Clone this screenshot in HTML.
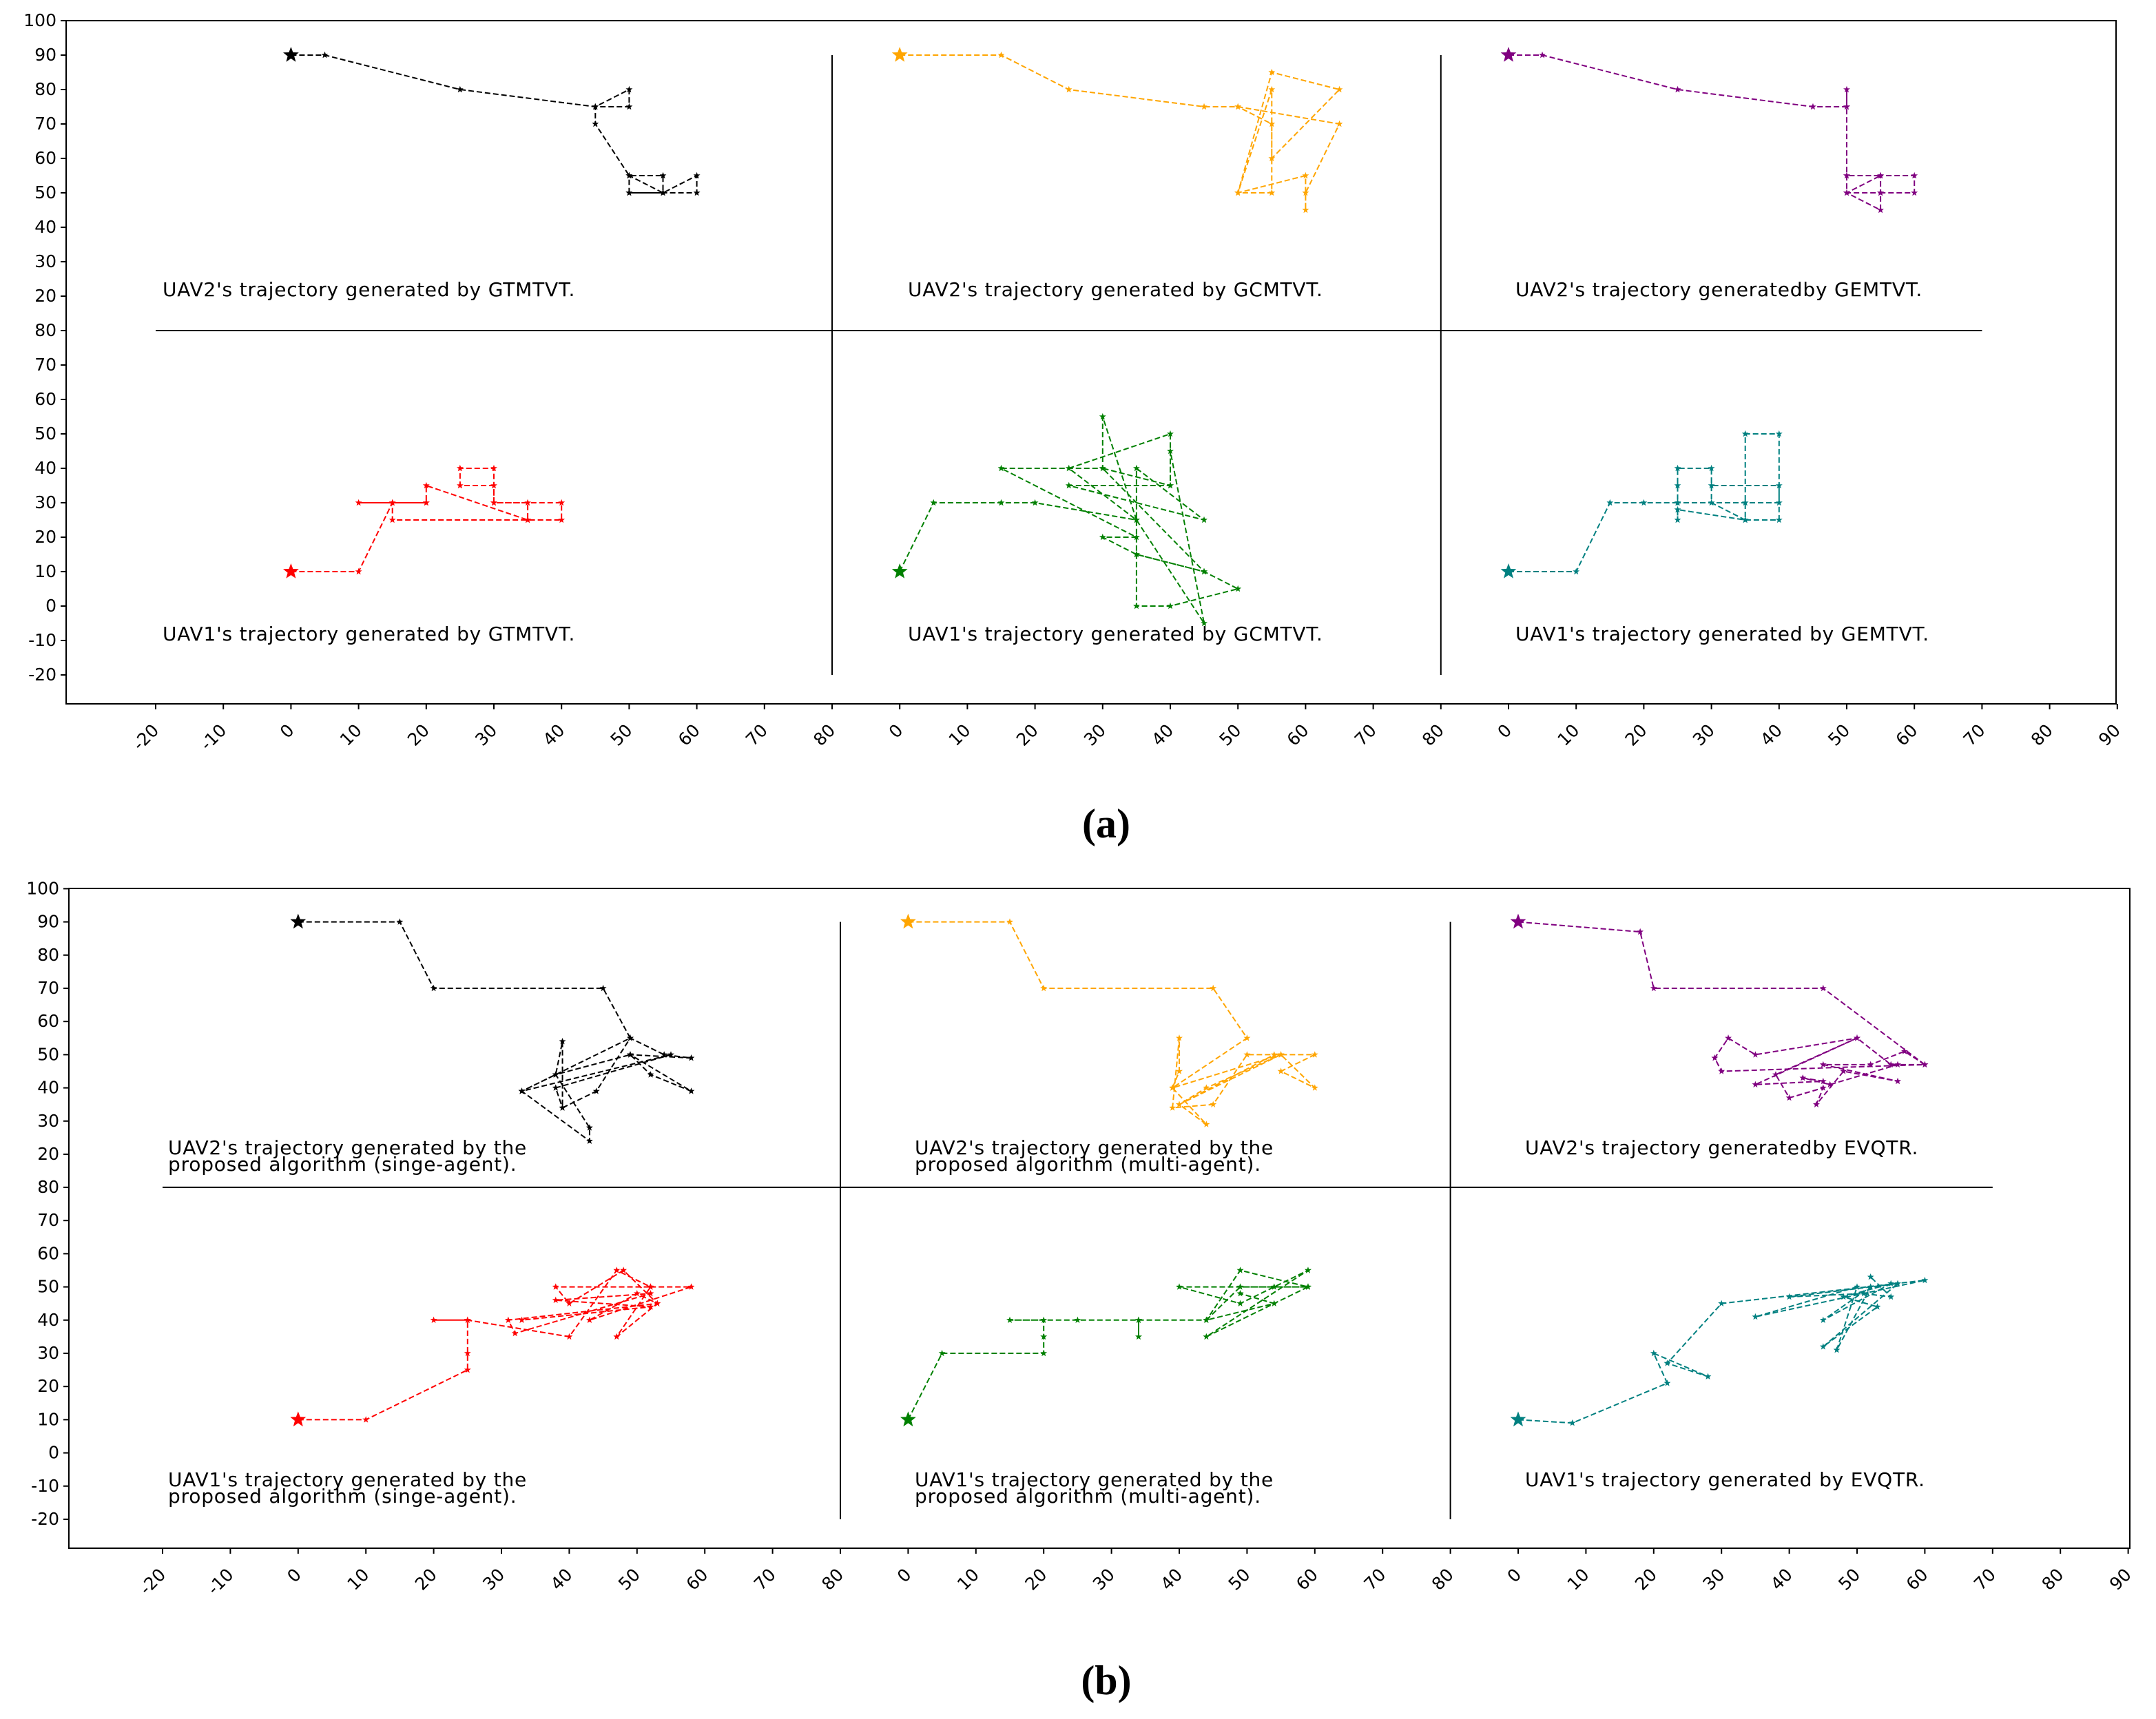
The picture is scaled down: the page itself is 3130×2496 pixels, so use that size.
<!DOCTYPE html>
<html><head><meta charset="utf-8"><style>html,body{margin:0;padding:0;background:#fff}svg{display:block}text{font-family:"DejaVu Sans","Liberation Sans",sans-serif}</style></head>
<body>
<svg id="fig" width="3130" height="2496" viewBox="0 0 1565 1248" xmlns="http://www.w3.org/2000/svg"></svg>
<script>
const ns="http://www.w3.org/2000/svg";
const svg=document.getElementById('fig');
// ---- data ----
const yTicksUpper=[100,90,80,70,60,50,40,30,20];
const yTicksLower=[80,70,60,50,40,30,20,10,0,-10,-20];
const xTickLabels=[-20,-10,0,10,20,30,40,50,60,70,80,0,10,20,30,40,50,60,70,80,0,10,20,30,40,50,60,70,80,90];
const aUav2Gtmtvt=[[0,90],[5,90],[25,80],[45,75],[50,80],[50,75],[45,75],[45,70],[50,55],[55,55],[55,50],[50,50],[50,55],[55,50],[60,55],[60,50],[50,50]];
const aUav2Gcmtvt=[[0,90],[15,90],[25,80],[45,75],[50,75],[65,70],[60,50],[60,45],[60,55],[50,50],[55,80],[55,50],[50,50],[55,85],[65,80],[55,60],[55,70],[50,75]];
const aUav2Gemtvt=[[0,90],[5,90],[25,80],[45,75],[50,75],[50,80],[50,75],[50,55],[50,50],[55,50],[55,55],[60,55],[60,50],[55,50],[55,45],[50,50],[55,55],[50,55]];
const aUav1Gtmtvt=[[0,10],[10,10],[15,30],[10,30],[20,30],[20,35],[35,25],[40,25],[40,30],[30,30],[30,40],[25,40],[25,35],[30,35],[30,30],[35,30],[35,25],[15,25],[15,30],[20,30]];
const aUav1Gcmtvt=[[0,10],[5,30],[15,30],[20,30],[35,25],[30,55],[30,40],[15,40],[35,20],[30,20],[35,15],[45,10],[50,5],[40,0],[35,0],[35,40],[45,25],[25,35],[40,35],[40,50],[25,40],[35,25],[45,-5],[40,45],[40,35],[30,40],[45,10],[35,15]];
const aUav1Gemtvt=[[0,10],[10,10],[15,30],[20,30],[25,30],[25,35],[25,40],[30,40],[30,30],[35,25],[35,50],[40,50],[40,25],[35,25],[25,28],[25,25],[25,30],[35,30],[40,30],[40,35],[30,35]];
const bUav2Single=[[0,90],[15,90],[20,70],[45,70],[49,55],[33,39],[38,44],[39,54],[39,34],[44,39],[49,55],[54,50],[58,49],[49,50],[58,39],[52,44],[49,50],[38,44],[43,28],[43,24],[33,39],[55,50],[38,40],[39,34]];
const bUav2Multi=[[0,90],[15,90],[20,70],[45,70],[50,55],[39,40],[40,45],[40,55],[39,34],[45,35],[50,50],[55,50],[60,50],[55,45],[60,40],[55,50],[40,35],[44,29],[39,40],[55,50],[44,40],[40,35],[54,50]];
const bUav2Evqtr=[[0,90],[18,87],[20,70],[45,70],[60,47],[55,47],[50,55],[38,44],[40,37],[45,40],[44,35],[48,45],[56,42],[45,47],[52,47],[57,51],[60,47],[30,45],[29,49],[31,55],[35,50],[50,55],[35,41],[45,42],[42,43],[46,41],[56,47]];
const bUav1Single=[[0,10],[10,10],[25,25],[25,30],[25,40],[20,40],[25,40],[40,35],[47,55],[52,50],[58,50],[43,40],[50,48],[53,45],[47,35],[52,50],[38,50],[40,45],[48,55],[53,45],[31,40],[32,36],[52,48],[38,46],[52,44],[33,40]];
const bUav1Multi=[[0,10],[5,30],[20,30],[20,35],[20,40],[15,40],[25,40],[34,40],[34,35],[34,40],[44,40],[49,55],[59,50],[44,35],[59,55],[49,45],[40,50],[54,50],[59,50],[49,50],[44,40],[54,45],[49,48]];
const bUav1Evqtr=[[0,10],[8,9],[22,21],[20,30],[28,23],[22,27],[30,45],[60,52],[35,41],[50,50],[47,31],[52,50],[45,40],[55,51],[48,47],[53,44],[45,32],[56,51],[40,47],[51,48],[55,47],[52,53]];

function el(tag,attrs,parent){const e=document.createElementNS(ns,tag);for(const k in attrs)e.setAttribute(k,attrs[k]);(parent||svg).appendChild(e);return e;}
function starPts(cx,cy,r){let p=[];for(let i=0;i<10;i++){const a=-Math.PI/2+i*Math.PI/5;const rr=i%2?r*0.42:r;p.push((cx+rr*Math.cos(a)).toFixed(1)+','+(cy+rr*Math.sin(a)).toFixed(1));}return p.join(' ');}

function drawFigure(cfg){
  const g=el('g',{});
  
  
  const f=el('rect',{x:cfg.left,y:cfg.top,width:cfg.right-cfg.left,height:cfg.bottom-cfg.top,fill:'none',stroke:'#000','stroke-width':1},g);
  
  
  const yUp=v=>cfg.y20-(v-20)*cfg.dy;
  const yLo=v=>cfg.y80+(80-v)*cfg.dy;
  yTicksUpper.forEach(v=>{const y=yUp(v);el('line',{x1:cfg.left-4,x2:cfg.left,y1:y,y2:y,stroke:'#000'},g);const t=el('text',{x:cfg.left-7,y:y+4,'font-size':12.5,'text-anchor':'end'},g);t.textContent=v;});
  yTicksLower.forEach(v=>{const y=yLo(v);el('line',{x1:cfg.left-4,x2:cfg.left,y1:y,y2:y,stroke:'#000'},g);const t=el('text',{x:cfg.left-7,y:y+4,'font-size':12.5,'text-anchor':'end'},g);t.textContent=v;});
  xTickLabels.forEach((v,i)=>{const x=cfg.x0+i*cfg.dxTick;el('line',{x1:x,x2:x,y1:cfg.bottom,y2:cfg.bottom+4,stroke:'#000'},g);const t=el('text',{x:x+3,y:cfg.bottom+20,'font-size':12.5,'text-anchor':'end',transform:`rotate(-45 ${x+3} ${cfg.bottom+20})`},g);t.textContent=v;});
  const d1=el('line',{x1:cfg.x0+10*cfg.dxTick,x2:cfg.x0+10*cfg.dxTick,y1:yUp(90),y2:yLo(-20),stroke:'#000'},g);
  const d2=el('line',{x1:cfg.x0+19*cfg.dxTick,x2:cfg.x0+19*cfg.dxTick,y1:yUp(90),y2:yLo(-20),stroke:'#000'},g);
  const h=el('line',{x1:cfg.x0,x2:cfg.x0+27*cfg.dxTick,y1:yLo(80),y2:yLo(80),stroke:'#000'},g);
  const origins=[2,11,20];
  cfg.series.forEach(s=>{
    const ox=cfg.x0+origins[s.col]*cfg.dxTick;const ys=s.row===0?yUp:yLo;
    const pts=s.data.map(p=>[ox+p[0]*cfg.dxTick/10,ys(p[1])]);
    const pl=el('polyline',{points:pts.map(p=>p.join(',')).join(' '),fill:'none',stroke:s.color,'stroke-width':1,'stroke-dasharray':'4,2'},g);
    
    pts.forEach((p,i)=>{const m=el('polygon',{points:starPts(p[0],p[1],i===0?6:2.6),fill:s.color},g);});
    s.label.forEach((ln,k)=>{const t=el('text',{x:cfg.capX[s.col],y:s.ly+k*12,'font-size':14,'letter-spacing':0.4},g);t.textContent=ln;});
  });
}
drawFigure({name:'figure-a',left:48,right:1536,top:15,bottom:511,x0:113,dxTick:49.1,y20:215,y80:240,dy:2.5,capX:[118,659,1100],series:[
 {col:0,row:0,data:aUav2Gtmtvt,color:'#000',name:'a-uav2-gtmtvt',label:["UAV2's trajectory generated by GTMTVT."],ly:215},
 {col:1,row:0,data:aUav2Gcmtvt,color:'#ffa500',name:'a-uav2-gcmtvt',label:["UAV2's trajectory generated by GCMTVT."],ly:215},
 {col:2,row:0,data:aUav2Gemtvt,color:'#800080',name:'a-uav2-gemtvt',label:["UAV2's trajectory generatedby GEMTVT."],ly:215},
 {col:0,row:1,data:aUav1Gtmtvt,color:'#ff0000',name:'a-uav1-gtmtvt',label:["UAV1's trajectory generated by GTMTVT."],ly:465},
 {col:1,row:1,data:aUav1Gcmtvt,color:'#008000',name:'a-uav1-gcmtvt',label:["UAV1's trajectory generated by GCMTVT."],ly:465},
 {col:2,row:1,data:aUav1Gemtvt,color:'#008080',name:'a-uav1-gemtvt',label:["UAV1's trajectory generated by GEMTVT."],ly:465}]});
drawFigure({name:'figure-b',left:50,right:1546,top:645,bottom:1124,x0:118,dxTick:49.2,y20:838,y80:862,dy:2.41,capX:[122,664,1107],series:[
 {col:0,row:0,data:bUav2Single,color:'#000',name:'b-uav2-single',label:["UAV2's trajectory generated by the","proposed algorithm (singe-agent)."],ly:838},
 {col:1,row:0,data:bUav2Multi,color:'#ffa500',name:'b-uav2-multi',label:["UAV2's trajectory generated by the","proposed algorithm (multi-agent)."],ly:838},
 {col:2,row:0,data:bUav2Evqtr,color:'#800080',name:'b-uav2-evqtr',label:["UAV2's trajectory generatedby EVQTR."],ly:838},
 {col:0,row:1,data:bUav1Single,color:'#ff0000',name:'b-uav1-single',label:["UAV1's trajectory generated by the","proposed algorithm (singe-agent)."],ly:1079},
 {col:1,row:1,data:bUav1Multi,color:'#008000',name:'b-uav1-multi',label:["UAV1's trajectory generated by the","proposed algorithm (multi-agent)."],ly:1079},
 {col:2,row:1,data:bUav1Evqtr,color:'#008080',name:'b-uav1-evqtr',label:["UAV1's trajectory generated by EVQTR."],ly:1079}]});
[['(a)',608,'subfigure-label-a'],['(b)',1230,'subfigure-label-b']].forEach(a=>{const t=el('text',{x:803,y:a[1],'font-size':30,'font-weight':'bold','text-anchor':'middle'});t.style.fontFamily='"Liberation Serif",serif';t.textContent=a[0];});
</script>
</body></html>
